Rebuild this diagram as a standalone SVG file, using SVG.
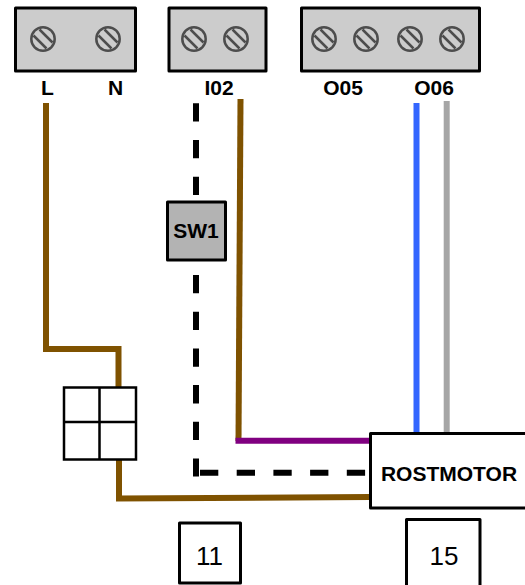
<svg xmlns="http://www.w3.org/2000/svg" width="525" height="585" viewBox="0 0 525 585">
  <style>
    text { font-family: "Liberation Sans", Arial, sans-serif; fill: #000; text-anchor: middle; }
    .b { font-size: 21px; font-weight: bold; }
    .n { font-size: 26px; }
    .term { fill: #ccc; stroke: #000; stroke-width: 3; stroke-linejoin: round; }
    .box { fill: #fff; stroke: #000; stroke-width: 3; stroke-linejoin: round; }
    .wire { fill: none; stroke-width: 6; stroke-linejoin: miter; }
    .grid { fill: none; stroke: #000; stroke-width: 2.5; }
    .s { fill: none; stroke: #4d4d4d; stroke-width: 2.500; }
  </style>
  <defs>
    <g id="screw">
      <circle class="s" r="11.700"/>
      <path class="s" d="M-9.500,-3.500 L3.500,9.500 M-3.500,-9.500 L9.500,3.500"/>
    </g>
  </defs>

  <g id="connectors">
    <path class="wire" stroke="#7f5200" d="M46,103 V349 H118.500 V387"/>
    <path class="wire" stroke="#7f5200" d="M119,460 V498.500 L370,497"/>
    <path class="wire" stroke="#7f5200" d="M240.500,99 L238.500,441"/>
    <path class="wire" stroke="#800080" d="M235.500,440.700 H370"/>
    <path class="wire" stroke="#3366ff" d="M416.500,103 V433"/>
    <path class="wire" stroke="#a6a6a6" d="M446.700,101 V433"/>
    <path class="wire" stroke="#000" stroke-dasharray="18.300 18.400" d="M196,103.300 V202"/>
    <path class="wire" stroke="#000" stroke-dasharray="18.300 18.400" d="M196,275 V476.500"/>
    <path class="wire" stroke="#000" stroke-dasharray="18.300 18.400" d="M200,472.700 H370"/>
  </g>

  <g id="terminal-ln">
    <rect class="term" x="15.500" y="8" width="120" height="63"/>
    <use href="#screw" x="43" y="39"/>
    <use href="#screw" x="108" y="39"/>
    <text class="b" x="47.500" y="95">L</text>
    <text class="b" x="115.500" y="95">N</text>
  </g>
  <g id="terminal-i02">
    <rect class="term" x="169" y="8" width="97" height="63"/>
    <use href="#screw" x="194" y="39"/>
    <use href="#screw" x="236" y="39"/>
    <text class="b" x="219" y="95">I02</text>
  </g>
  <g id="terminal-o">
    <rect class="term" x="301.500" y="8" width="178" height="63"/>
    <use href="#screw" x="324" y="39"/>
    <use href="#screw" x="366" y="39"/>
    <use href="#screw" x="410" y="39"/>
    <use href="#screw" x="452" y="39"/>
    <text class="b" x="343" y="95">O05</text>
    <text class="b" x="434" y="95">O06</text>
  </g>
  <g id="sw1">
    <rect x="167.500" y="202" width="58" height="58" fill="#b3b3b3" stroke="#000" stroke-width="3" stroke-linejoin="round"/>
    <text class="b" x="196" y="238">SW1</text>
  </g>
  <g id="switch-grid">
    <rect class="grid" x="64" y="387.500" width="72" height="72" fill="#fff"/>
    <path class="grid" d="M99.500,387.500 V459.500 M64,422 H136"/>
  </g>
  <g id="rostmotor">
    <rect class="box" x="370.500" y="433.500" width="160" height="74.500"/>
    <text class="b" x="449" y="481">ROSTMOTOR</text>
  </g>
  <g id="box-11">
    <rect class="box" x="179.500" y="523" width="61" height="60"/>
    <text class="n" x="209.500" y="565">11</text>
  </g>
  <g id="box-15">
    <rect class="box" x="406.500" y="519.500" width="73.500" height="70"/>
    <text class="n" x="444" y="565">15</text>
  </g>
</svg>
